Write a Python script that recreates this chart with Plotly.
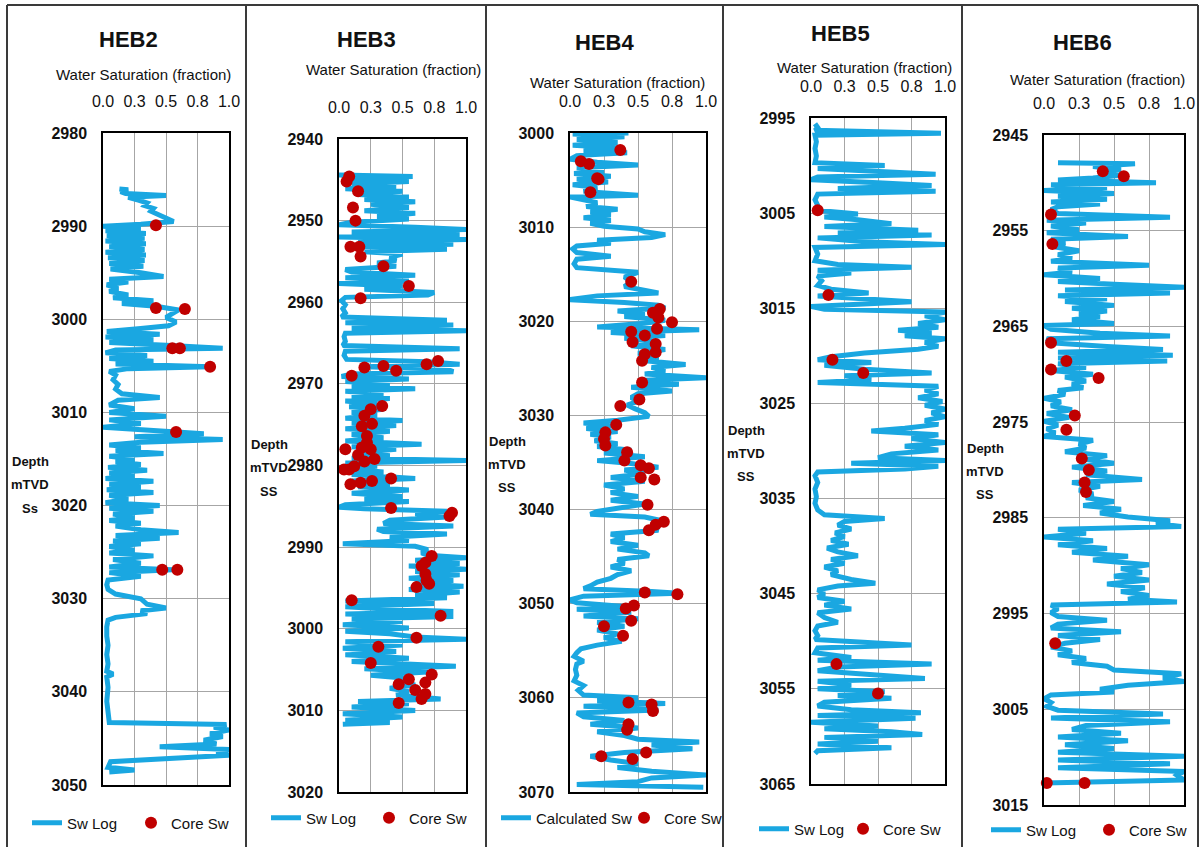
import plotly.graph_objects as go

# ---------------------------------------------------------------- data
WELLS = ["HEB2", "HEB3", "HEB4", "HEB5", "HEB6"]
LOG_NAMES = ["Sw Log", "Sw Log", "Calculated Sw", "Sw Log", "Sw Log"]
CORE_NAME = "Core Sw"
DEPTH_RANGES = [(2980, 3050), (2940, 3020), (3000, 3070), (2995, 3065), (2945, 3015)]
DEPTH_LABELS = [["Depth", "mTVD", "Ss"], ["Depth", "mTVD", "SS"], ["Depth", "mTVD", "SS"],
                ["Depth", "mTVD", "SS"], ["Depth", "mTVD", "SS"]]
SW_TICKS = [0, 0.25, 0.5, 0.75, 1.0]
SW_TICK_TEXT = ["0.0", "0.3", "0.5", "0.8", "1.0"]
X_TITLE = "Water Saturation (fraction)"

HEB2_LOG_DEPTH = [
    2986.0, 2986.1, 2986.3, 2986.5, 2986.7, 2986.9, 2987.2, 2987.5, 2987.8, 2988.1,
    2988.4, 2988.8, 2989.2, 2989.5, 2989.8, 2990.0, 2990.3, 2990.5, 2990.8, 2991.0,
    2991.3, 2991.6, 2991.9, 2992.2, 2992.5, 2992.8, 2993.1, 2993.4, 2993.7, 2994.0,
    2994.3, 2994.6, 2995.0, 2995.4, 2995.7, 2996.0, 2996.3, 2996.7, 2997.0, 2997.4,
    2997.7, 2998.0, 2998.3, 2998.6, 2999.0, 2999.4, 2999.8, 3000.3, 3000.7, 3001.0,
    3001.3, 3001.6, 3001.9, 3002.2, 3002.5, 3002.8, 3003.1, 3003.3, 3003.6, 3003.9,
    3004.2, 3004.5, 3004.8, 3005.1, 3005.3, 3005.6, 3006.0, 3006.5, 3007.0, 3007.5,
    3008.0, 3008.4, 3008.7, 3009.2, 3009.6, 3010.0, 3010.4, 3010.8, 3011.2, 3011.6,
    3012.0, 3012.3, 3012.6, 3012.9, 3013.2, 3013.5, 3013.8, 3014.1, 3014.4, 3014.7,
    3015.0, 3015.3, 3015.6, 3015.9, 3016.2, 3016.5, 3016.8, 3017.1, 3017.4, 3017.7,
    3018.0, 3018.3, 3018.6, 3018.9, 3019.3, 3019.7, 3020.0, 3020.3, 3020.6, 3020.9,
    3021.3, 3021.6, 3021.9, 3022.2, 3022.6, 3022.9, 3023.2, 3023.5, 3023.8, 3024.1,
    3024.4, 3024.8, 3025.1, 3025.4, 3025.8, 3026.2, 3026.6, 3026.9, 3027.2, 3027.6,
    3028.0, 3028.5, 3029.0, 3029.5, 3030.0, 3030.6, 3031.0, 3031.3, 3031.6, 3032.0,
    3032.3, 3033.0, 3034.0, 3035.0, 3036.0, 3037.0, 3037.8, 3038.1, 3038.4, 3039.5,
    3041.0, 3042.5, 3043.3, 3043.5, 3043.8, 3044.1, 3044.5, 3044.8, 3045.2, 3045.6,
    3045.9, 3046.2, 3046.5, 3046.8, 3047.1, 3047.5, 3047.8, 3048.1, 3048.4, 3048.6,
]
HEB2_LOG_SW = [
    0.13, 0.20, 0.14, 0.18, 0.50, 0.20, 0.28, 0.35, 0.33, 0.40,
    0.38, 0.45, 0.50, 0.56, 0.30, 0.00, 0.30, 0.02, 0.34, 0.03,
    0.33, 0.02, 0.34, 0.05, 0.33, 0.02, 0.34, 0.04, 0.33, 0.05,
    0.32, 0.06, 0.30, 0.48, 0.05, 0.20, 0.03, 0.12, 0.05, 0.20,
    0.08, 0.40, 0.15, 0.42, 0.60, 0.55, 0.50, 0.58, 0.52, 0.30,
    0.03, 0.45, 0.02, 0.40, 0.05, 0.50, 0.95, 0.10, 0.02, 0.35,
    0.05, 0.40, 0.10, 0.85, 0.20, 0.05, 0.10, 0.08, 0.12, 0.10,
    0.15, 0.45, 0.12, 0.05, 0.25, 0.05, 0.50, 0.05, 0.30, 0.00,
    0.55, 0.80, 0.25, 0.95, 0.30, 0.05, 0.30, 0.10, 0.48, 0.05,
    0.25, 0.10, 0.30, 0.04, 0.35, 0.05, 0.25, 0.02, 0.40, 0.05,
    0.30, 0.03, 0.40, 0.05, 0.20, 0.02, 0.45, 0.05, 0.40, 0.08,
    0.25, 0.05, 0.30, 0.10, 0.30, 0.60, 0.10, 0.45, 0.08, 0.30,
    0.05, 0.25, 0.05, 0.40, 0.08, 0.30, 0.05, 0.55, 0.05, 0.30,
    0.04, 0.03, 0.04, 0.10, 0.30, 0.35, 0.50, 0.30, 0.35, 0.10,
    0.04, 0.03, 0.03, 0.04, 0.03, 0.04, 0.03, 0.08, 0.03, 0.04,
    0.03, 0.04, 0.05, 0.98, 0.88, 1.00, 0.85, 0.95, 0.80, 0.90,
    0.45, 1.00, 0.90, 1.00, 0.60, 0.06, 0.05, 0.04, 0.25, 0.05,
]
HEB2_CORE_DEPTH = [2989.9, 2998.8, 2998.9, 3003.1, 3003.1, 3005.1, 3012.1, 3026.9, 3026.9]
HEB2_CORE_SW = [0.42, 0.42, 0.65, 0.55, 0.61, 0.85, 0.58, 0.47, 0.59]

HEB3_LOG_DEPTH = [
    2944.4, 2944.6, 2944.9, 2945.2, 2945.5, 2945.8, 2946.1, 2946.4, 2946.8, 2947.1,
    2947.4, 2947.7, 2948.0, 2948.4, 2948.8, 2949.1, 2949.5, 2949.8, 2950.2, 2950.5,
    2950.8, 2951.1, 2951.4, 2951.7, 2952.0, 2952.3, 2952.6, 2952.9, 2953.2, 2953.5,
    2953.8, 2954.1, 2954.5, 2954.9, 2955.2, 2955.6, 2956.0, 2956.3, 2956.7, 2957.0,
    2957.4, 2957.7, 2958.0, 2958.4, 2958.8, 2959.1, 2959.4, 2959.8, 2960.3, 2960.8,
    2961.3, 2961.8, 2962.2, 2962.5, 2962.8, 2963.2, 2963.5, 2963.8, 2964.2, 2964.8,
    2965.3, 2965.7, 2966.0, 2966.5, 2967.0, 2967.3, 2967.6, 2967.9, 2968.2, 2968.5,
    2968.8, 2969.1, 2969.4, 2969.7, 2970.0, 2970.3, 2970.6, 2970.9, 2971.2, 2971.5,
    2971.8, 2972.1, 2972.5, 2972.8, 2973.1, 2973.5, 2973.8, 2974.2, 2974.5, 2974.8,
    2975.1, 2975.5, 2975.8, 2976.2, 2976.6, 2977.0, 2977.4, 2977.7, 2978.0, 2978.4,
    2978.8, 2979.1, 2979.4, 2979.7, 2980.1, 2980.4, 2980.8, 2981.1, 2981.6, 2981.9,
    2982.3, 2982.6, 2983.0, 2983.4, 2983.8, 2984.1, 2984.4, 2984.8, 2985.1, 2985.3,
    2985.6, 2985.9, 2986.3, 2986.7, 2987.1, 2987.4, 2987.8, 2988.1, 2988.4, 2988.8,
    2989.2, 2989.6, 2989.9, 2990.3, 2990.7, 2991.0, 2991.3, 2991.6, 2992.0, 2992.3,
    2992.7, 2993.0, 2993.4, 2993.8, 2994.1, 2994.5, 2994.8, 2995.2, 2995.5, 2995.9,
    2996.2, 2996.6, 2996.9, 2997.3, 2997.6, 2997.9, 2998.2, 2998.5, 2998.8, 2999.1,
    2999.5, 2999.9, 3000.3, 3000.6, 3001.0, 3001.3, 3001.6, 3002.0, 3002.4, 3002.8,
    3003.2, 3003.6, 3004.0, 3004.3, 3004.6, 3004.9, 3005.3, 3005.7, 3006.1, 3006.5,
    3006.9, 3007.3, 3007.7, 3008.1, 3008.6, 3008.9, 3009.2, 3009.6, 3010.0, 3010.4,
    3010.8, 3011.2, 3011.5, 3011.7,
]
HEB3_LOG_SW = [
    0.00, 0.58, 0.05, 0.55, 0.10, 0.45, 0.05, 0.50, 0.15, 0.55,
    0.20, 0.60, 0.25, 0.55, 0.20, 0.60, 0.30, 0.55, 0.10, 0.00,
    0.60, 1.00, 0.10, 0.95, 0.00, 1.00, 0.15, 0.90, 0.10, 0.85,
    0.20, 0.50, 0.40, 0.45, 0.30, 0.45, 0.05, 0.10, 0.60, 0.05,
    0.55, 0.00, 0.50, 0.20, 0.75, 0.70, 0.05, 0.02, 0.05, 0.03,
    0.05, 0.02, 0.85, 0.05, 0.90, 0.10, 1.00, 0.05, 0.04, 0.05,
    0.03, 0.95, 0.05, 0.04, 0.06, 0.70, 0.95, 0.20, 0.85, 0.90,
    0.10, 0.02, 0.55, 0.05, 0.40, 0.10, 0.60, 0.05, 0.35, 0.10,
    0.40, 0.05, 0.30, 0.08, 0.35, 0.10, 0.30, 0.05, 0.50, 0.10,
    0.45, 0.05, 0.40, 0.10, 0.35, 0.05, 0.65, 0.10, 0.45, 0.15,
    0.40, 0.10, 1.00, 0.05, 0.30, 0.05, 0.35, 0.10, 0.60, 0.10,
    0.40, 0.15, 0.55, 0.10, 0.50, 0.20, 0.55, 0.05, 0.00, 0.20,
    0.85, 0.60, 0.85, 0.40, 0.35, 0.90, 0.30, 0.35, 0.85, 0.40,
    0.55, 0.03, 0.60, 0.70, 0.65, 0.70, 1.00, 0.60, 0.95, 0.55,
    1.00, 0.60, 0.95, 0.55, 0.90, 0.60, 0.98, 0.55, 0.95, 0.60,
    0.85, 0.05, 0.75, 0.05, 0.40, 0.90, 0.05, 0.90, 0.10, 0.50,
    0.03, 0.55, 0.05, 0.40, 0.60, 1.00, 0.05, 0.50, 0.03, 0.45,
    0.05, 0.55, 0.10, 0.50, 0.92, 0.20, 0.70, 0.25, 0.55, 0.45,
    0.60, 0.40, 0.55, 0.45, 0.80, 0.15, 0.55, 0.10, 0.60, 0.03,
    0.50, 0.05, 0.40, 0.03,
]
HEB3_CORE_DEPTH = [
    2944.6, 2945.2, 2946.4, 2948.4, 2950.0, 2953.2, 2953.2, 2954.4, 2955.6, 2958.0,
    2959.5, 2967.2, 2967.6, 2968.0, 2967.8, 2968.4, 2969.0, 2972.7, 2973.1, 2973.9,
    2974.9, 2975.2, 2976.4, 2977.2, 2978.0, 2977.8, 2978.0, 2978.7, 2979.2, 2979.5,
    2980.5, 2980.5, 2980.1, 2982.3, 2982.1, 2981.9, 2981.6, 2985.2, 2986.2, 2985.8,
    2991.1, 2991.9, 2992.3, 2993.3, 2994.1, 2994.5, 2994.9, 2996.5, 2998.4, 3001.1,
    3002.2, 3004.2, 3005.6, 3006.6, 3006.2, 3006.8, 3007.5, 3008.0, 3008.6, 3009.1,
]
HEB3_CORE_SW = [
    0.08, 0.06, 0.15, 0.11, 0.13, 0.09, 0.16, 0.17, 0.35, 0.55,
    0.17, 0.78, 0.69, 0.20, 0.35, 0.45, 0.10, 0.34, 0.25, 0.20,
    0.26, 0.18, 0.22, 0.22, 0.05, 0.18, 0.25, 0.15, 0.28, 0.20,
    0.04, 0.08, 0.12, 0.09, 0.17, 0.26, 0.41, 0.41, 0.87, 0.89,
    0.73, 0.68, 0.65, 0.68, 0.69, 0.71, 0.61, 0.10, 0.80, 0.61,
    0.31, 0.25, 0.73, 0.68, 0.55, 0.47, 0.60, 0.68, 0.65, 0.47,
]

HEB4_LOG_DEPTH = [
    3000.0, 3000.1, 3000.4, 3000.7, 3001.0, 3001.3, 3001.6, 3001.9, 3002.1, 3002.4,
    3002.8, 3003.1, 3003.4, 3003.7, 3004.0, 3004.3, 3004.6, 3004.9, 3005.2, 3005.5,
    3005.8, 3006.2, 3006.6, 3006.8, 3007.1, 3007.4, 3007.8, 3008.1, 3008.4, 3008.7,
    3009.0, 3009.3, 3009.6, 3009.9, 3010.2, 3010.5, 3010.8, 3011.1, 3011.4, 3011.7,
    3012.0, 3012.3, 3012.7, 3013.1, 3013.4, 3013.9, 3014.3, 3014.8, 3015.3, 3015.8,
    3016.3, 3016.7, 3017.0, 3017.3, 3017.7, 3018.0, 3018.3, 3018.6, 3018.9, 3019.2,
    3019.5, 3019.9, 3020.2, 3020.6, 3020.9, 3021.2, 3021.5, 3021.8, 3022.2, 3022.6,
    3023.0, 3023.4, 3023.8, 3024.2, 3024.6, 3024.9, 3025.3, 3025.6, 3026.0, 3026.3,
    3026.7, 3027.0, 3027.4, 3027.7, 3028.1, 3028.5, 3028.9, 3029.3, 3029.7, 3030.1,
    3030.5, 3030.8, 3031.1, 3031.4, 3031.7, 3032.0, 3032.3, 3032.7, 3033.0, 3033.3,
    3033.7, 3034.0, 3034.4, 3034.8, 3035.1, 3035.5, 3035.8, 3036.2, 3036.6, 3037.0,
    3037.4, 3037.8, 3038.2, 3038.6, 3039.0, 3039.4, 3039.8, 3040.2, 3040.5, 3040.8,
    3041.1, 3041.4, 3041.8, 3042.2, 3042.6, 3043.0, 3043.4, 3043.8, 3044.2, 3044.6,
    3044.9, 3045.3, 3045.7, 3046.1, 3046.5, 3046.9, 3047.3, 3047.7, 3048.1, 3048.4,
    3048.7, 3048.9, 3049.2, 3049.6, 3049.9, 3050.3, 3050.6, 3050.9, 3051.3, 3051.6,
    3052.0, 3052.4, 3052.8, 3053.2, 3053.6, 3054.0, 3054.4, 3054.8, 3055.2, 3055.6,
    3056.1, 3056.4, 3057.0, 3057.6, 3058.2, 3058.7, 3059.2, 3059.7, 3060.0, 3060.3,
    3060.6, 3060.9, 3061.3, 3061.6, 3062.0, 3062.4, 3062.8, 3063.2, 3063.6, 3064.0,
    3064.4, 3064.7, 3065.0, 3065.4, 3065.8, 3066.2, 3066.6, 3067.0, 3067.4, 3067.8,
    3068.2, 3068.5, 3068.9, 3069.2, 3069.5,
]
HEB4_LOG_SW = [
    0.43, 0.02, 0.40, 0.05, 0.35, 0.02, 0.38, 0.10, 0.42, 0.05,
    0.00, 0.20, 0.50, 0.05, 0.25, 0.03, 0.30, 0.05, 0.28, 0.02,
    0.20, 0.10, 0.50, 0.00, 0.10, 0.20, 0.12, 0.35, 0.15, 0.30,
    0.10, 0.30, 0.15, 0.25, 0.50, 0.55, 0.70, 0.60, 0.20, 0.30,
    0.05, 0.02, 0.05, 0.30, 0.05, 0.03, 0.05, 0.50, 0.40, 0.45,
    0.40, 0.55, 0.65, 0.20, 0.00, 0.40, 0.65, 0.70, 0.35, 0.55,
    0.40, 0.70, 0.55, 0.20, 0.95, 0.30, 0.70, 0.40, 0.65, 0.45,
    0.70, 0.50, 0.65, 0.55, 0.85, 0.60, 0.70, 0.55, 1.00, 0.50,
    0.80, 0.45, 0.75, 0.50, 0.45, 0.50, 0.42, 0.48, 0.55, 0.58,
    0.35, 0.10, 0.30, 0.12, 0.35, 0.15, 0.30, 0.18, 0.35, 0.20,
    0.45, 0.25, 0.55, 0.20, 0.45, 0.65, 0.40, 0.55, 0.30, 0.55,
    0.25, 0.40, 0.30, 0.50, 0.30, 0.55, 0.40, 0.20, 0.15, 0.55,
    0.65, 0.70, 0.60, 0.65, 0.30, 0.40, 0.30, 0.50, 0.35, 0.55,
    0.58, 0.35, 0.40, 0.30, 0.45, 0.35, 0.30, 0.20, 0.15, 0.10,
    0.60, 0.80, 0.10, 0.00, 0.05, 0.40, 0.05, 0.45, 0.10, 0.50,
    0.20, 0.40, 0.20, 0.35, 0.25, 0.38, 0.20, 0.08, 0.05, 0.03,
    0.10, 0.05, 0.04, 0.05, 0.03, 0.10, 0.06, 0.10, 0.50, 0.20,
    0.70, 0.10, 0.65, 0.05, 0.10, 0.40, 0.15, 0.50, 0.20, 0.40,
    0.50, 0.95, 0.60, 0.90, 0.40, 0.15, 0.30, 0.50, 0.35, 0.60,
    1.00, 0.60, 0.50, 0.05, 0.98,
]
HEB4_CORE_DEPTH = [
    3001.8, 3003.0, 3003.3, 3004.9, 3004.8, 3006.3, 3015.8, 3018.7, 3019.1, 3019.6,
    3020.1, 3020.8, 3021.1, 3021.5, 3022.2, 3022.4, 3023.3, 3023.5, 3024.2, 3026.5,
    3028.3, 3029.0, 3031.0, 3031.8, 3032.5, 3033.2, 3033.9, 3034.8, 3035.3, 3035.6,
    3036.6, 3036.8, 3039.5, 3041.3, 3041.6, 3042.2, 3048.8, 3049.0, 3050.2, 3050.5,
    3051.8, 3052.4, 3053.4, 3060.5, 3060.7, 3061.4, 3062.8, 3063.4, 3065.8, 3066.2,
    3066.5,
]
HEB4_CORE_SW = [
    0.37, 0.08, 0.14, 0.21, 0.20, 0.15, 0.45, 0.66, 0.61, 0.65,
    0.75, 0.64, 0.45, 0.55, 0.46, 0.63, 0.63, 0.55, 0.53, 0.53,
    0.51, 0.37, 0.34, 0.26, 0.25, 0.26, 0.42, 0.40, 0.52, 0.58,
    0.52, 0.62, 0.57, 0.69, 0.63, 0.58, 0.55, 0.79, 0.47, 0.41,
    0.45, 0.25, 0.39, 0.43, 0.60, 0.61, 0.43, 0.42, 0.56, 0.23,
    0.46,
]

HEB5_LOG_DEPTH = [
    2995.6, 2996.0, 2996.3, 2996.6, 2996.8, 2997.5, 2998.2, 2999.0, 2999.7, 3000.0,
    3000.3, 3000.6, 3000.9, 3001.2, 3001.5, 3001.8, 3002.1, 3002.4, 3002.7, 3003.0,
    3003.6, 3004.2, 3004.7, 3005.1, 3005.4, 3005.7, 3006.1, 3006.4, 3006.8, 3007.1,
    3007.3, 3007.6, 3008.0, 3008.3, 3008.6, 3009.3, 3010.0, 3010.4, 3010.7, 3011.0,
    3011.3, 3011.6, 3012.1, 3012.6, 3013.0, 3013.4, 3013.7, 3014.3, 3014.6, 3014.8,
    3015.1, 3015.4, 3015.8, 3016.2, 3016.6, 3017.0, 3017.3, 3017.6, 3017.9, 3018.2,
    3018.6, 3019.0, 3019.3, 3019.7, 3020.1, 3020.4, 3020.7, 3021.0, 3021.4, 3021.8,
    3022.1, 3022.5, 3022.8, 3023.2, 3023.6, 3024.0, 3024.4, 3024.8, 3025.2, 3025.6,
    3026.0, 3026.4, 3026.8, 3027.2, 3027.6, 3027.9, 3028.3, 3028.7, 3029.1, 3029.5,
    3029.9, 3030.3, 3030.7, 3031.0, 3031.3, 3031.6, 3031.9, 3032.2, 3032.6, 3033.3,
    3034.0, 3034.8, 3035.5, 3036.2, 3036.7, 3037.1, 3037.4, 3037.8, 3038.2, 3038.6,
    3039.0, 3039.4, 3039.8, 3040.2, 3040.6, 3041.0, 3041.4, 3041.8, 3042.2, 3042.6,
    3043.0, 3043.5, 3043.9, 3044.2, 3044.6, 3045.0, 3045.4, 3045.8, 3046.2, 3046.6,
    3047.0, 3047.5, 3048.0, 3048.4, 3048.9, 3049.4, 3049.8, 3050.4, 3050.7, 3051.2,
    3051.7, 3052.0, 3052.4, 3052.7, 3053.1, 3053.5, 3053.9, 3054.2, 3054.6, 3055.0,
    3055.3, 3055.7, 3056.0, 3056.4, 3056.8, 3057.2, 3057.5, 3057.8, 3058.1, 3058.5,
    3058.9, 3059.2, 3059.5, 3059.8, 3060.1, 3060.5, 3060.8, 3061.2, 3061.5, 3061.8,
]
HEB5_LOG_SW = [
    0.03, 0.05, 0.03, 0.97, 0.03, 0.04, 0.03, 0.04, 0.03, 0.55,
    0.05, 0.45, 0.93, 0.05, 0.00, 0.50, 0.90, 0.20, 0.93, 0.05,
    0.03, 0.05, 0.04, 0.35, 0.10, 0.35, 0.60, 0.10, 0.80, 0.20,
    0.90, 0.05, 0.40, 1.00, 0.03, 0.05, 0.03, 0.20, 0.75, 0.05,
    0.30, 0.05, 0.08, 0.05, 0.15, 0.43, 0.05, 0.75, 0.20, 0.00,
    0.10, 1.00, 0.85, 1.00, 0.80, 0.95, 0.65, 0.90, 0.70, 1.00,
    0.85, 0.95, 0.80, 0.40, 0.15, 0.05, 0.45, 0.10, 0.40, 0.90,
    0.25, 0.45, 0.05, 0.95, 0.85, 0.95, 0.80, 0.98, 0.85, 1.00,
    0.90, 1.00, 0.85, 0.95, 0.70, 0.45, 0.95, 0.75, 1.00, 0.70,
    0.95, 0.60, 0.50, 1.00, 0.30, 0.95, 0.70, 0.05, 0.03, 0.05,
    0.03, 0.04, 0.03, 0.05, 0.10, 0.55, 0.25, 0.20, 0.30, 0.18,
    0.25, 0.15, 0.28, 0.12, 0.20, 0.35, 0.15, 0.25, 0.10, 0.20,
    0.15, 0.30, 0.48, 0.20, 0.05, 0.10, 0.05, 0.25, 0.10, 0.30,
    0.05, 0.10, 0.20, 0.05, 0.03, 0.05, 0.03, 0.75, 0.05, 0.03,
    0.30, 0.05, 0.90, 0.20, 0.05, 0.40, 0.85, 0.05, 0.30, 0.05,
    0.55, 0.20, 0.60, 0.10, 0.05, 0.30, 0.82, 0.05, 0.78, 0.00,
    0.50, 0.10, 0.60, 0.83, 0.10, 0.50, 0.05, 0.60, 0.05, 0.03,
]
HEB5_CORE_DEPTH = [3004.7, 3013.6, 3020.4, 3021.8, 3052.4, 3055.5]
HEB5_CORE_SW = [0.05, 0.13, 0.16, 0.39, 0.19, 0.50]

HEB6_LOG_DEPTH = [
    2947.9, 2948.0, 2948.3, 2948.6, 2948.9, 2949.2, 2949.5, 2949.7, 2950.0, 2950.2,
    2950.5, 2950.8, 2951.1, 2951.4, 2951.7, 2952.0, 2952.2, 2952.5, 2952.8, 2953.2,
    2953.6, 2953.9, 2954.2, 2954.5, 2954.9, 2955.2, 2955.6, 2955.9, 2956.3, 2956.7,
    2957.1, 2957.5, 2957.9, 2958.2, 2958.6, 2958.9, 2959.3, 2959.6, 2960.0, 2960.3,
    2960.6, 2960.9, 2961.2, 2961.5, 2961.8, 2962.1, 2962.4, 2962.8, 2963.1, 2963.4,
    2963.7, 2964.0, 2964.3, 2964.7, 2964.9, 2965.3, 2965.7, 2966.0, 2966.3, 2966.7,
    2967.1, 2967.4, 2967.7, 2968.0, 2968.3, 2968.6, 2968.9, 2969.3, 2969.6, 2970.0,
    2970.3, 2970.7, 2971.0, 2971.4, 2971.7, 2972.1, 2972.5, 2972.9, 2973.3, 2973.7,
    2974.1, 2974.5, 2974.9, 2975.3, 2975.7, 2976.1, 2976.5, 2976.9, 2977.3, 2977.7,
    2978.1, 2978.5, 2978.9, 2979.3, 2979.7, 2980.1, 2980.5, 2981.0, 2981.3, 2981.7,
    2982.1, 2982.5, 2982.9, 2983.3, 2983.7, 2984.1, 2984.5, 2984.9, 2985.3, 2985.6,
    2985.9, 2986.2, 2986.6, 2987.0, 2987.4, 2987.8, 2988.2, 2988.6, 2989.0, 2989.4,
    2989.9, 2990.3, 2990.7, 2991.1, 2991.5, 2991.9, 2992.3, 2992.7, 2993.1, 2993.5,
    2993.8, 2994.1, 2994.5, 2994.9, 2995.3, 2995.7, 2996.1, 2996.5, 2996.9, 2997.3,
    2997.7, 2998.1, 2998.5, 2998.9, 2999.3, 2999.7, 3000.1, 3000.5, 3000.9, 3001.3,
    3001.7, 3002.1, 3002.5, 3002.9, 3003.2, 3003.5, 3003.9, 3004.3, 3004.7, 3005.1,
    3005.5, 3005.9, 3006.3, 3006.7, 3007.1, 3007.5, 3007.9, 3008.3, 3008.7, 3009.1,
    3009.5, 3009.9, 3010.3, 3010.7, 3011.1, 3011.5, 3011.9, 3012.4, 3012.7,
]
HEB6_LOG_SW = [
    0.10, 0.65, 0.35, 0.55, 0.40, 0.55, 0.35, 0.10, 0.80, 0.05,
    0.45, 0.00, 0.50, 0.10, 0.45, 0.05, 0.40, 0.10, 0.05, 0.10,
    0.90, 0.02, 0.30, 0.05, 0.25, 0.02, 0.60, 0.05, 0.15, 0.08,
    0.25, 0.10, 0.20, 0.05, 0.75, 0.10, 0.20, 0.00, 0.40, 0.10,
    0.50, 1.00, 0.15, 0.90, 0.10, 0.45, 0.15, 0.50, 0.20, 0.45,
    0.25, 0.40, 0.20, 0.50, 0.00, 0.05, 0.40, 0.90, 0.02, 0.05,
    0.45, 0.85, 0.10, 0.92, 0.10, 0.88, 0.10, 0.30, 0.05, 0.35,
    0.15, 0.30, 0.20, 0.28, 0.10, 0.15, 0.00, 0.12, 0.05, 0.20,
    0.02, 0.18, 0.00, 0.10, 0.02, 0.08, 0.00, 0.35, 0.25, 0.30,
    0.15, 0.45, 0.30, 0.50, 0.20, 0.45, 0.30, 0.70, 0.20, 0.40,
    0.25, 0.35, 0.30, 0.50, 0.28, 0.55, 0.40, 0.60, 0.90, 0.80,
    0.98, 0.10, 0.30, 0.00, 0.35, 0.10, 0.45, 0.20, 0.60, 0.35,
    0.75, 0.55, 0.70, 0.50, 0.75, 0.45, 0.72, 0.55, 0.75, 0.60,
    0.95, 0.05, 0.10, 0.05, 0.10, 0.45, 0.10, 0.05, 0.55, 0.10,
    0.40, 0.15, 0.05, 0.20, 0.10, 0.30, 0.20, 0.45, 0.50, 0.98,
    0.85, 1.00, 0.60, 0.40, 0.50, 0.05, 0.00, 0.05, 0.02, 0.10,
    0.85, 0.05, 0.90, 0.30, 0.20, 0.55, 0.10, 0.60, 0.15, 0.50,
    0.10, 1.00, 0.10, 0.90, 0.10, 1.00, 0.95, 1.00, 0.00,
]
HEB6_CORE_DEPTH = [
    2948.8, 2949.3, 2953.3, 2956.4, 2966.7, 2968.6, 2969.5, 2970.4, 2974.3, 2975.8,
    2978.8, 2980.0, 2981.3, 2982.3, 2998.1, 3012.7, 3012.7,
]
HEB6_CORE_SW = [
    0.42, 0.57, 0.05, 0.06, 0.05, 0.16, 0.05, 0.39, 0.22, 0.16,
    0.27, 0.32, 0.29, 0.30, 0.08, 0.02, 0.29,
]

LOG_DEPTHS = [HEB2_LOG_DEPTH, HEB3_LOG_DEPTH, HEB4_LOG_DEPTH, HEB5_LOG_DEPTH, HEB6_LOG_DEPTH]
LOG_SWS = [HEB2_LOG_SW, HEB3_LOG_SW, HEB4_LOG_SW, HEB5_LOG_SW, HEB6_LOG_SW]
CORE_DEPTHS = [HEB2_CORE_DEPTH, HEB3_CORE_DEPTH, HEB4_CORE_DEPTH, HEB5_CORE_DEPTH, HEB6_CORE_DEPTH]
CORE_SWS = [HEB2_CORE_SW, HEB3_CORE_SW, HEB4_CORE_SW, HEB5_CORE_SW, HEB6_CORE_SW]

# ---------------------------------------------------------------- page geometry (pixels)
W, H = 1200, 847
# plot box: left, top, right, bottom
BOXES = [(103, 133, 229, 785), (339, 139, 466, 792), (570, 133, 706, 792),
         (811, 118, 945, 784), (1044, 135, 1184, 805)]
TITLE_POS = [(128, 40), (366, 40), (604, 42), (840, 34), (1082, 42)]
XTITLE_POS = [(143, 75), (393, 70), (617, 82), (864, 68), (1097, 80)]
DEPTH_LABEL_POS = [(30, 462), (269, 445), (507, 441), (746, 430), (985, 448)]
LEGEND_LINE_X = [33, 272, 502, 760, 992]
LEGEND_DOT_X = [152, 390, 645, 864, 1110]
LEGEND_Y = [823, 818, 818, 829, 830]
PANEL_EDGES = [7, 246, 486, 723, 962, 1198]

FONT = "Liberation Sans, Arial, sans-serif"
LINE_COLOR = "#1AA7E1"
CORE_COLOR = "#C00000"
TEXT_COLOR = "#111111"


def fx(x):
    return x / W


def fy(y):
    return 1 - y / H


fig = go.Figure()
layout = dict(
    width=W, height=H,
    margin=dict(l=0, r=0, t=0, b=0, autoexpand=False),
    paper_bgcolor="white", plot_bgcolor="white",
    font=dict(family=FONT, color=TEXT_COLOR),
    annotations=[], shapes=[],
)

for i, well in enumerate(WELLS):
    n = i + 1
    xa = "x" if n == 1 else f"x{n}"
    ya = "y" if n == 1 else f"y{n}"
    lg_line = "legend" if n == 1 else f"legend{2 * n - 1}"
    lg_core = f"legend{2 * n}"
    l, t, r, b = BOXES[i]
    d0, d1 = DEPTH_RANGES[i]

    fig.add_trace(go.Scatter(
        x=LOG_SWS[i], y=LOG_DEPTHS[i], mode="lines", name=LOG_NAMES[i],
        line=dict(color=LINE_COLOR, width=5), xaxis=xa, yaxis=ya,
        legend=lg_line, showlegend=True,
    ))
    fig.add_trace(go.Scatter(
        x=CORE_SWS[i], y=CORE_DEPTHS[i], mode="markers", name=CORE_NAME,
        marker=dict(color=CORE_COLOR, size=12, symbol="circle"),
        cliponaxis=False, xaxis=xa, yaxis=ya, legend=lg_core, showlegend=True,
    ))

    xkey = "xaxis" if n == 1 else f"xaxis{n}"
    ykey = "yaxis" if n == 1 else f"yaxis{n}"
    layout[xkey] = dict(
        domain=[fx(l), fx(r)], anchor=ya, side="top", range=[0, 1],
        tickvals=SW_TICKS, ticktext=SW_TICK_TEXT,
        ticks="outside", ticklen=18, tickcolor="rgba(0,0,0,0)",
        tickfont=dict(size=16, family=FONT, color=TEXT_COLOR),
        showgrid=True, gridcolor="#A6A6A6", gridwidth=1,
        showline=True, mirror=True, linecolor="#000000", linewidth=1.5,
        zeroline=False, fixedrange=True,
    )
    layout[ykey] = dict(
        domain=[fy(b), fy(t)], anchor=xa, range=[d1, d0],
        tick0=d0, dtick=10,
        ticks="outside", ticklen=11, tickcolor="rgba(0,0,0,0)",
        tickfont=dict(size=16, family=FONT, color=TEXT_COLOR, weight="bold"),
        showgrid=True, gridcolor="#A6A6A6", gridwidth=1,
        showline=True, mirror=True, linecolor="#000000", linewidth=1.5,
        zeroline=False, fixedrange=True,
    )

    tx, ty = TITLE_POS[i]
    layout["annotations"].append(dict(
        text=f"<b>{well}</b>", x=fx(tx), y=fy(ty), xref="paper", yref="paper",
        showarrow=False, xanchor="center", yanchor="middle",
        font=dict(size=22, family=FONT, color=TEXT_COLOR)))
    sx, sy = XTITLE_POS[i]
    layout["annotations"].append(dict(
        text=X_TITLE, x=fx(sx), y=fy(sy), xref="paper", yref="paper",
        showarrow=False, xanchor="center", yanchor="middle",
        font=dict(size=15, family=FONT, color=TEXT_COLOR)))
    dx, dy = DEPTH_LABEL_POS[i]
    for k, word in enumerate(DEPTH_LABELS[i]):
        layout["annotations"].append(dict(
            text=f"<b>{word}</b>", x=fx(dx), y=fy(dy + 23 * k), xref="paper", yref="paper",
            showarrow=False, xanchor="center", yanchor="middle",
            font=dict(size=13, family=FONT, color=TEXT_COLOR)))

    legend_style = dict(
        orientation="h", xanchor="left", yanchor="middle",
        bgcolor="rgba(0,0,0,0)", borderwidth=0, itemwidth=30,
        font=dict(size=15, family=FONT, color=TEXT_COLOR),
        itemclick=False, itemdoubleclick=False,
    )
    layout[lg_line] = dict(legend_style, x=fx(LEGEND_LINE_X[i] - 6), y=fy(LEGEND_Y[i]))
    layout[lg_core] = dict(legend_style, x=fx(LEGEND_DOT_X[i] - 21), y=fy(LEGEND_Y[i]))

# panel frames
for x in PANEL_EDGES:
    layout["shapes"].append(dict(type="line", xref="paper", yref="paper",
                                 x0=fx(x), x1=fx(x), y0=fy(5), y1=0,
                                 line=dict(color="#3a3a3a", width=2)))
layout["shapes"].append(dict(type="line", xref="paper", yref="paper",
                             x0=fx(PANEL_EDGES[0]), x1=fx(PANEL_EDGES[-1]), y0=fy(5), y1=fy(5),
                             line=dict(color="#3a3a3a", width=2)))

fig.update_layout(**layout)
fig.write_html("out.html")
